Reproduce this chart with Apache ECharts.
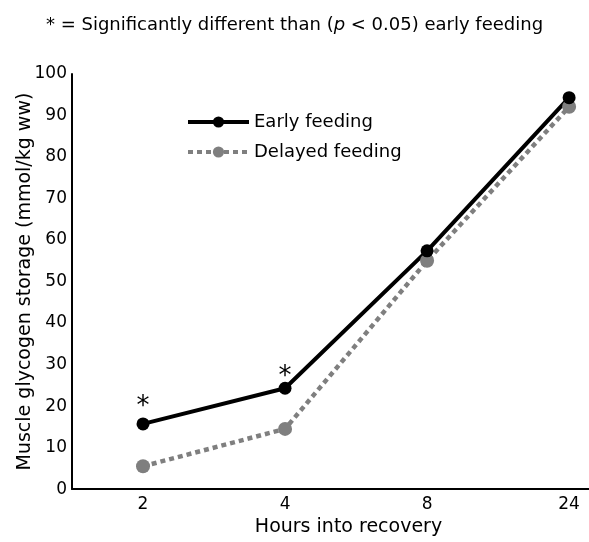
<!DOCTYPE html>
<html>
<head>
<meta charset="utf-8">
<script src="https://cdn.jsdelivr.net/npm/echarts@6/dist/echarts.min.js"></script>
<style>html,body{margin:0;padding:0;background:#fff}#c{width:589px;height:542px}</style>
</head>
<body>
<div id="c"></div>
<script>
var hours = ['2', '4', '8', '24'];
var earlyFeeding = [15.7, 24.3, 57.4, 94.3];
var delayedFeeding = [5.5, 14.5, 55.0, 92.1];
var significant = [true, true, false, false];
var yTicks = [0, 10, 20, 30, 40, 50, 60, 70, 80, 90, 100];

var FONT = 'DejaVu Sans';
var chart = echarts.init(document.getElementById('c'), null, {renderer: 'canvas'});

var starOffset = [3, 9];
var earlyData = earlyFeeding.map(function (v, i) {
  var item = {value: [i, v]};
  if (significant[i]) {
    item.label = {show: true, formatter: '*', position: 'top', distance: 0, offset: [0, starOffset[i]],
      fontSize: 26, fontFamily: FONT, color: '#000'};
  }
  return item;
});
var delayedData = delayedFeeding.map(function (v, i) { return [i, v]; });

chart.setOption({
  animation: false,
  backgroundColor: '#fff',
  title: {
    text: '* = Significantly different than ({i|p} < 0.05) early feeding',
    left: 'center', top: 11,
    textStyle: {fontFamily: FONT, fontSize: 18, fontWeight: 'normal', color: '#000',
      rich: {i: {fontFamily: FONT, fontSize: 18, fontStyle: 'italic', color: '#000'}}}
  },
  legend: {
    left: 181, top: 108, orient: 'vertical', itemWidth: 61, itemHeight: 14, itemGap: 12,
    textStyle: {fontFamily: FONT, fontSize: 18, color: '#000'},
    lineStyle: {width: 4},
    data: ['Early feeding', 'Delayed feeding']
  },
  grid: {left: 72, right: 0, top: 74, bottom: 48, containLabel: false},
  xAxis: {
    type: 'value', min: -0.5, max: 3.14,
    name: 'Hours into recovery', nameLocation: 'middle', nameGap: 28,
    nameTextStyle: {fontFamily: FONT, fontSize: 19, color: '#000', padding: [0, 0, 0, 36]},
    axisLine: {show: true, onZero: false, lineStyle: {color: '#000', width: 2}},
    axisTick: {show: false},
    splitLine: {show: false},
    axisLabel: {customValues: [0, 1, 2, 3], formatter: function (v) { return hours[Math.round(v)]; },
      fontFamily: FONT, fontSize: 17, color: '#000', margin: 7}
  },
  yAxis: {
    type: 'value', min: 0, max: 100, interval: 10,
    name: 'Muscle glycogen storage (mmol/kg ww)', nameLocation: 'middle', nameGap: 37,
    nameMoveOverlap: false,
    nameTextStyle: {fontFamily: FONT, fontSize: 19, color: '#000'},
    axisLine: {show: true, onZero: false, lineStyle: {color: '#000', width: 2}},
    axisTick: {show: false},
    splitLine: {show: false},
    axisLabel: {fontFamily: FONT, fontSize: 17, color: '#000', margin: 5,
      formatter: function (v) { return yTicks.indexOf(v) >= 0 ? String(v) : ''; }}
  },
  series: [
    {
      name: 'Delayed feeding', type: 'line', data: delayedData,
      symbol: 'circle', symbolSize: 14,
      lineStyle: {color: '#7f7f7f', width: 4.5, type: [5, 4]},
      itemStyle: {color: '#7f7f7f'}
    },
    {
      name: 'Early feeding', type: 'line', data: earlyData,
      symbol: 'circle', symbolSize: 13,
      lineStyle: {color: '#000', width: 4},
      itemStyle: {color: '#000'}
    }
  ]
});
</script>
</body>
</html>
